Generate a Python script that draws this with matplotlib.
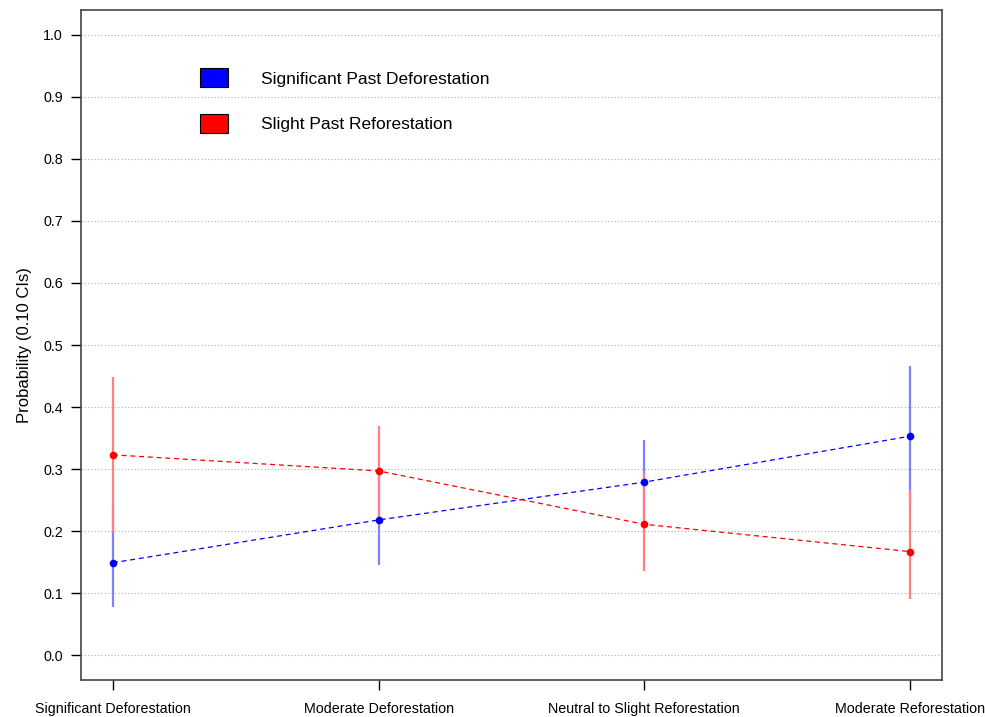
import matplotlib
matplotlib.use('Agg')
import matplotlib.pyplot as plt
from matplotlib.patches import Patch
from matplotlib import rcParams

rcParams['font.family'] = ['Liberation Sans', 'DejaVu Sans']

categories = ['Significant Deforestation', 'Moderate Deforestation',
              'Neutral to Slight Reforestation', 'Moderate Reforestation']
x = [1, 2, 3, 4]

# predicted probabilities with 0.10 CIs
defor_mean = [0.149, 0.218, 0.279, 0.353]
defor_low = [0.078, 0.145, 0.215, 0.240]
defor_high = [0.240, 0.290, 0.347, 0.466]

refor_mean = [0.323, 0.297, 0.211, 0.167]
refor_low = [0.199, 0.216, 0.135, 0.091]
refor_high = [0.448, 0.370, 0.293, 0.266]

fig = plt.figure(figsize=(9.85, 7.17), dpi=100)
ax = fig.add_axes([0.0822, 0.0516, 0.8741, 0.9344])

for v in [i / 10 for i in range(11)]:
    ax.axhline(v, color='#b0b0b0', lw=0.8, ls=(0, (1, 2)), zorder=0)

ax.vlines(x, defor_low, defor_high, color='#8080ff', lw=1.6, zorder=2)
ax.vlines(x, refor_low, refor_high, color='#ff8080', lw=1.6, zorder=2)

ax.plot(x, defor_mean, color='blue', lw=0.9, ls=(0, (4, 3)), zorder=3)
ax.plot(x, refor_mean, color='red', lw=0.9, ls=(0, (4, 3)), zorder=3)
ax.plot(x, defor_mean, 'o', color='blue', ms=4.5, zorder=4)
ax.plot(x, refor_mean, 'o', color='red', ms=4.5, zorder=4)

ax.set_xlim(0.88, 4.12)
ax.set_ylim(-0.04, 1.04)
ax.set_xticks(x)
ax.set_xticklabels(categories, fontsize=10.3)
ax.set_yticks([i / 10 for i in range(11)])
ax.set_yticklabels(['%.1f' % (i / 10) for i in range(11)], fontsize=10.3)
ax.tick_params(length=7, width=1, pad=6, colors='black')
ax.tick_params(axis='x', pad=9)
ax.set_ylabel('Probability (0.10 CIs)', fontsize=12, labelpad=8)

for s in ax.spines.values():
    s.set_color('#444444')
    s.set_linewidth(1.2)

handles = [Patch(facecolor='blue', edgecolor='black', lw=0.8),
           Patch(facecolor='red', edgecolor='black', lw=0.8)]
ax.legend(handles, ['Significant Past Deforestation', 'Slight Past Reforestation'],
          loc='upper left', bbox_to_anchor=(0.138, 0.913), frameon=False,
          fontsize=12.5, handlelength=1.6, handleheight=1.3,
          handletextpad=1.95, labelspacing=1.55, borderpad=0, borderaxespad=0)

plt.savefig('out.png', dpi=100)
